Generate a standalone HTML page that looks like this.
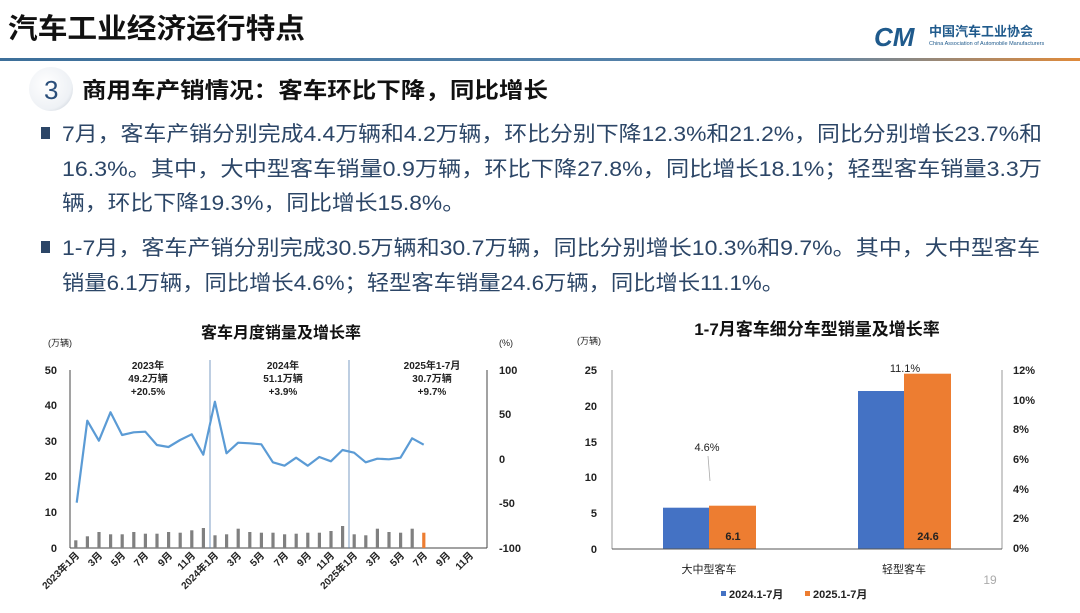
<!DOCTYPE html>
<html><head><meta charset="utf-8"><style>
body{margin:0;width:1080px;height:608px;overflow:hidden;background:#fff;font-family:"Liberation Sans","Noto Sans CJK SC",sans-serif}
svg text{font-family:"Liberation Sans","Noto Sans CJK SC",sans-serif}
</style></head><body>
<svg width="1080" height="608" viewBox="0 0 1080 608" xmlns="http://www.w3.org/2000/svg">
<defs>
<linearGradient id="hl" x1="0" x2="1"><stop offset="0" stop-color="#3d6f9a"/><stop offset="0.75" stop-color="#5a86ad"/><stop offset="1" stop-color="#e08a3a"/></linearGradient>
<radialGradient id="cg" cx="0.4" cy="0.4" r="0.7"><stop offset="0" stop-color="#fff"/><stop offset="0.8" stop-color="#eef1f5"/><stop offset="1" stop-color="#d0d6de"/></radialGradient>
</defs>
<text x="8" y="38" font-size="28" font-weight="bold" fill="#111" textLength="297" lengthAdjust="spacingAndGlyphs">汽车工业经济运行特点</text>
<text x="874" y="46" font-size="26" font-weight="bold" font-style="italic" fill="#1f5a8c">CM</text>
<text x="929" y="36" font-size="13" font-weight="bold" fill="#1f5a8c">中国汽车工业协会</text>
<text x="929" y="45" font-size="5.5" fill="#1f5a8c">China Association of Automobile Manufacturers</text>
<rect x="0" y="58" width="1080" height="3" fill="url(#hl)"/>
<circle cx="51" cy="89" r="22" fill="url(#cg)"/>
<text x="44" y="99" font-size="26" fill="#2a4e7a">3</text>
<text x="82" y="98" font-size="22" font-weight="bold" fill="#111" textLength="466" lengthAdjust="spacingAndGlyphs">商用车产销情况：客车环比下降，同比增长</text>
<g font-size="21" fill="#2c4667">
<rect x="41" y="127" width="9" height="12" fill="#2c4667"/>
<text x="62" y="141" textLength="980" lengthAdjust="spacingAndGlyphs">7月，客车产销分别完成4.4万辆和4.2万辆，环比分别下降12.3%和21.2%，同比分别增长23.7%和</text>
<text x="62" y="176" textLength="980" lengthAdjust="spacingAndGlyphs">16.3%。其中，大中型客车销量0.9万辆，环比下降27.8%，同比增长18.1%；轻型客车销量3.3万</text>
<text x="62" y="210" textLength="403" lengthAdjust="spacingAndGlyphs">辆，环比下降19.3%，同比增长15.8%。</text>
<rect x="41" y="241" width="9" height="12" fill="#2c4667"/>
<text x="62" y="255" textLength="978" lengthAdjust="spacingAndGlyphs">1-7月，客车产销分别完成30.5万辆和30.7万辆，同比分别增长10.3%和9.7%。其中，大中型客车</text>
<text x="62" y="290" textLength="722" lengthAdjust="spacingAndGlyphs">销量6.1万辆，同比增长4.6%；轻型客车销量24.6万辆，同比增长11.1%。</text>
</g>
<!-- left chart -->
<text x="281" y="338" font-size="16" font-weight="bold" text-anchor="middle" fill="#111">客车月度销量及增长率</text>
<text x="48" y="346" font-size="9" fill="#222">(万辆)</text>
<text x="499" y="346" font-size="9" fill="#222">(%)</text>
<g font-size="11" font-weight="bold" fill="#222" text-anchor="end">
<text x="57" y="374">50</text><text x="57" y="409">40</text><text x="57" y="445">30</text><text x="57" y="480">20</text><text x="57" y="516">10</text><text x="57" y="552">0</text>
</g>
<g font-size="11" font-weight="bold" fill="#222">
<text x="499" y="374">100</text><text x="499" y="418">50</text><text x="499" y="463">0</text><text x="499" y="507">-50</text><text x="499" y="552">-100</text>
</g>
<line x1="70" y1="370" x2="70" y2="548" stroke="#444" stroke-width="1"/>
<line x1="487" y1="370" x2="487" y2="548" stroke="#444" stroke-width="1"/>
<line x1="70" y1="548" x2="487" y2="548" stroke="#444" stroke-width="1"/>
<line x1="210" y1="360" x2="210" y2="548" stroke="#5b86b5" stroke-width="0.8"/>
<line x1="349" y1="360" x2="349" y2="548" stroke="#5b86b5" stroke-width="0.8"/>
<g font-size="10" font-weight="bold" fill="#222" text-anchor="middle">
<text x="148" y="369">2023年</text><text x="148" y="382">49.2万辆</text><text x="148" y="395">+20.5%</text>
<text x="283" y="369">2024年</text><text x="283" y="382">51.1万辆</text><text x="283" y="395">+3.9%</text>
<text x="432" y="369">2025年1-7月</text><text x="432" y="382">30.7万辆</text><text x="432" y="395">+9.7%</text>
</g>
<g fill="#808080">
<rect x="74.2" y="540.3" width="3.2" height="7.7"/><rect x="85.8" y="536.3" width="3.2" height="11.7"/><rect x="97.4" y="532" width="3.2" height="16"/><rect x="109" y="534.3" width="3.2" height="13.7"/><rect x="120.6" y="534.3" width="3.2" height="13.7"/><rect x="132.2" y="532" width="3.2" height="16"/><rect x="143.8" y="533.7" width="3.2" height="14.3"/><rect x="155.4" y="533.7" width="3.2" height="14.3"/><rect x="167" y="532" width="3.2" height="16"/><rect x="178.6" y="532.7" width="3.2" height="15.3"/><rect x="190.2" y="530.3" width="3.2" height="17.7"/><rect x="201.8" y="528" width="3.2" height="20"/>
<rect x="213.4" y="535.3" width="3.2" height="12.7"/><rect x="225" y="534.3" width="3.2" height="13.7"/><rect x="236.6" y="528.7" width="3.2" height="19.3"/><rect x="248.2" y="532" width="3.2" height="16"/><rect x="259.8" y="532.7" width="3.2" height="15.3"/><rect x="271.4" y="532.7" width="3.2" height="15.3"/><rect x="283" y="534.3" width="3.2" height="13.7"/><rect x="294.6" y="533.7" width="3.2" height="14.3"/><rect x="306.2" y="532.7" width="3.2" height="15.3"/><rect x="317.8" y="532.7" width="3.2" height="15.3"/><rect x="329.4" y="531" width="3.2" height="17"/><rect x="341" y="526" width="3.2" height="22"/>
<rect x="352.6" y="534.3" width="3.2" height="13.7"/><rect x="364.2" y="535.3" width="3.2" height="12.7"/><rect x="375.8" y="528.7" width="3.2" height="19.3"/><rect x="387.4" y="532" width="3.2" height="16"/><rect x="399" y="532.7" width="3.2" height="15.3"/><rect x="410.6" y="528.7" width="3.2" height="19.3"/>
<rect x="422.2" y="532.7" width="3.2" height="15.3" fill="#ed7d31"/>
</g>
<polyline fill="none" stroke="#5b9bd5" stroke-width="2.2" stroke-linejoin="round" points="76.7,502.7 87.3,420.7 98.9,440.7 110.5,412.3 122.1,435 133.7,432.3 145.3,431.7 156.9,445 168.5,447 180.1,440 191.7,434.3 203.3,454.7 214.9,401.7 226.5,453.3 238.1,442.7 249.7,443.3 261.3,444.3 272.9,462.3 284.5,465.7 296.1,457.7 307.7,465.7 319.3,457 330.9,461.3 342.5,450 354.1,452.7 365.7,462.3 377.3,458.7 388.9,459.3 400.5,457.7 412.1,438.3 423.7,444.7"/>
<g font-size="10" font-weight="bold" fill="#222" text-anchor="end">
<text transform="translate(80,556) rotate(-45)">2023年1月</text>
<text transform="translate(103,556) rotate(-45)">3月</text>
<text transform="translate(126,556) rotate(-45)">5月</text>
<text transform="translate(149,556) rotate(-45)">7月</text>
<text transform="translate(173,556) rotate(-45)">9月</text>
<text transform="translate(196,556) rotate(-45)">11月</text>
<text transform="translate(219,556) rotate(-45)">2024年1月</text>
<text transform="translate(242,556) rotate(-45)">3月</text>
<text transform="translate(265,556) rotate(-45)">5月</text>
<text transform="translate(289,556) rotate(-45)">7月</text>
<text transform="translate(312,556) rotate(-45)">9月</text>
<text transform="translate(335,556) rotate(-45)">11月</text>
<text transform="translate(358,556) rotate(-45)">2025年1月</text>
<text transform="translate(381,556) rotate(-45)">3月</text>
<text transform="translate(405,556) rotate(-45)">5月</text>
<text transform="translate(428,556) rotate(-45)">7月</text>
<text transform="translate(451,556) rotate(-45)">9月</text>
<text transform="translate(474,556) rotate(-45)">11月</text>
</g>
<!-- right chart -->
<text x="817" y="335" font-size="17" font-weight="bold" text-anchor="middle" fill="#111">1-7月客车细分车型销量及增长率</text>
<text x="577" y="344" font-size="9" fill="#222">(万辆)</text>
<g font-size="11" font-weight="bold" fill="#222" text-anchor="end">
<text x="597" y="374">25</text><text x="597" y="410">20</text><text x="597" y="446">15</text><text x="597" y="481">10</text><text x="597" y="517">5</text><text x="597" y="553">0</text>
</g>
<g font-size="11" font-weight="bold" fill="#222">
<text x="1013" y="374">12%</text><text x="1013" y="404">10%</text><text x="1013" y="433">8%</text><text x="1013" y="463">6%</text><text x="1013" y="493">4%</text><text x="1013" y="522">2%</text><text x="1013" y="552">0%</text>
</g>
<line x1="612" y1="370" x2="612" y2="549" stroke="#999"/>
<line x1="1002" y1="370" x2="1002" y2="549" stroke="#999"/>
<rect x="663" y="507.7" width="46" height="41.3" fill="#4472c4"/>
<rect x="709" y="505.7" width="47" height="43.3" fill="#ed7d31"/>
<rect x="858" y="391" width="46" height="158" fill="#4472c4"/>
<rect x="904" y="373.7" width="47" height="175.3" fill="#ed7d31"/>
<line x1="612" y1="549" x2="1002" y2="549" stroke="#555"/>
<text x="733" y="540" font-size="11" font-weight="bold" fill="#222" text-anchor="middle">6.1</text>
<text x="928" y="540" font-size="11" font-weight="bold" fill="#222" text-anchor="middle">24.6</text>
<text x="707" y="451" font-size="11" fill="#222" text-anchor="middle">4.6%</text>
<line x1="708" y1="456" x2="710" y2="481" stroke="#aaa" stroke-width="0.8"/>
<text x="905" y="372" font-size="11" fill="#222" text-anchor="middle">11.1%</text>
<text x="709" y="573" font-size="11" fill="#222" text-anchor="middle">大中型客车</text>
<text x="904" y="573" font-size="11" fill="#222" text-anchor="middle">轻型客车</text>
<text x="990" y="584" font-size="12" fill="#aaa" text-anchor="middle">19</text>
<rect x="721" y="591" width="5" height="5" fill="#4472c4"/>
<text x="729" y="598" font-size="11" font-weight="bold" fill="#222">2024.1-7月</text>
<rect x="805" y="591" width="5" height="5" fill="#ed7d31"/>
<text x="813" y="598" font-size="11" font-weight="bold" fill="#222">2025.1-7月</text>
</svg>
</body></html>
